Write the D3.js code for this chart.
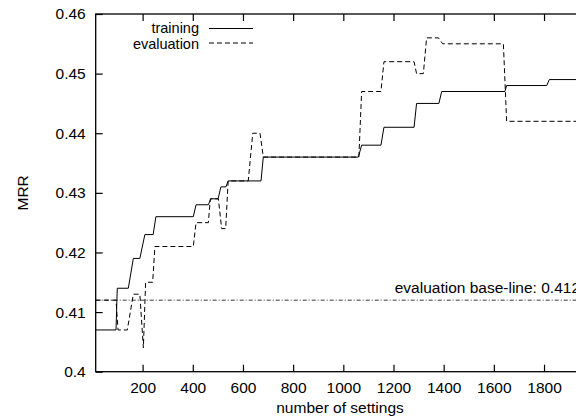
<!DOCTYPE html>
<html>
<head>
<meta charset="utf-8">
<script src="https://cdn.jsdelivr.net/npm/d3@7"></script>
<style>
  body { margin: 0; background: #fff; }
  svg { display: block; font-family: "Liberation Sans", Arial, sans-serif; }
  .axis text { font-size: 15.5px; fill: #000; }
  .axis line { stroke: #000; stroke-width: 1.2; }
</style>
</head>
<body>
<div id="chart"></div>
<script>
// change points of the two step curves (number of settings -> MRR)
const trainX = [13, 94, 99, 143, 163, 189, 209, 242, 253, 402, 413, 462, 472, 501, 512, 532, 541, 672, 681, 1060, 1073, 1150, 1162, 1282, 1292, 1381, 1392, 1644, 1651, 1811, 1821, 2000]
const trainY = [0.407, 0.407, 0.414, 0.414, 0.419, 0.419, 0.423, 0.423, 0.426, 0.426, 0.428, 0.428, 0.429, 0.429, 0.431, 0.431, 0.432, 0.432, 0.436, 0.436, 0.438, 0.438, 0.441, 0.441, 0.445, 0.445, 0.447, 0.447, 0.448, 0.448, 0.449, 0.449]

const evalX = [13, 94, 102, 139, 163, 189, 203, 212, 240, 249, 402, 413, 462, 470, 502, 515, 531, 541, 621, 639, 668, 681, 1062, 1073, 1150, 1162, 1282, 1292, 1319, 1332, 1379, 1396, 1638, 1651, 2000]
const evalY = [0.412, 0.412, 0.407, 0.407, 0.413, 0.413, 0.404, 0.415, 0.415, 0.421, 0.421, 0.425, 0.425, 0.429, 0.429, 0.424, 0.424, 0.432, 0.432, 0.440, 0.440, 0.436, 0.436, 0.447, 0.447, 0.452, 0.452, 0.450, 0.450, 0.456, 0.456, 0.455, 0.455, 0.442, 0.442]

const baseline = 0.412
const xTicks = [200, 400, 600, 800, 1000, 1200, 1400, 1600, 1800]
const yTicks = [0.4, 0.41, 0.42, 0.43, 0.44, 0.45, 0.46]
const seriesNames = ['training', 'evaluation']

const width = 576, height = 419
// plot frame in pixels (right edge falls outside the picture, as in the original)
const frame = { left: 95.7, right: 594.2, top: 14, bottom: 371.7 }

const svg = d3.select('#chart').append('svg')
    .attr('width', width)
    .attr('height', height)

const x = d3.scaleLinear().domain([13, 2000]).range([frame.left, frame.right])
const y = d3.scaleLinear().domain([0.4, 0.46]).range([frame.bottom, frame.top])

svg.append('clipPath').attr('id', 'plot')
    .append('rect')
    .attr('x', frame.left).attr('y', frame.top)
    .attr('width', frame.right - frame.left).attr('height', frame.bottom - frame.top)

// axes, ticks pointing inward
svg.append('g').attr('class', 'axis')
    .attr('transform', `translate(0,${frame.bottom})`)
    .call(d3.axisBottom(x).tickValues(xTicks).tickSizeInner(-7).tickSizeOuter(0).tickPadding(10)
        .tickFormat(d3.format('d')))
    .call(g => g.select('.domain').remove())

svg.append('g').attr('class', 'axis')
    .attr('transform', `translate(0,${frame.top})`)
    .call(d3.axisTop(x).tickValues(xTicks).tickSizeInner(-7).tickSizeOuter(0).tickFormat(''))
    .call(g => g.select('.domain').remove())

svg.append('g').attr('class', 'axis')
    .attr('transform', `translate(${frame.left},0)`)
    .call(d3.axisLeft(y).tickValues(yTicks).tickSizeInner(-7).tickSizeOuter(0).tickPadding(10)
        .tickFormat(d => String(+d.toFixed(2))))
    .call(g => g.select('.domain').remove())

svg.append('g').attr('class', 'axis')
    .attr('transform', `translate(${frame.right},0)`)
    .call(d3.axisRight(y).tickValues(yTicks).tickSizeInner(-7).tickSizeOuter(0).tickFormat(''))
    .call(g => g.select('.domain').remove())

// frame
svg.append('rect')
    .attr('x', frame.left).attr('y', frame.top)
    .attr('width', frame.right - frame.left).attr('height', frame.bottom - frame.top)
    .attr('fill', 'none')
    .attr('stroke', '#000')
    .attr('stroke-width', 1.3)

const line = d3.line().x(d => x(d[0])).y(d => y(d[1]))
const plot = svg.append('g').attr('clip-path', 'url(#plot)')

// base-line
plot.append('path')
    .attr('d', line([[13, baseline], [2000, baseline]]))
    .attr('fill', 'none')
    .attr('stroke', '#222')
    .attr('stroke-width', 0.9)
    .attr('stroke-dasharray', '4,2,1,2')

svg.append('text')
    .attr('x', x(1205))
    .attr('y', y(baseline) - 7)
    .attr('font-size', '15.5px')
    .text('evaluation base-line: ' + baseline)

const trainPts = d3.zip(trainX, trainY)
const evalPts = d3.zip(evalX, evalY)

plot.append('path')
    .attr('d', line(trainPts))
    .attr('fill', 'none')
    .attr('stroke', '#000')
    .attr('stroke-width', 1)

plot.append('path')
    .attr('d', line(evalPts))
    .attr('fill', 'none')
    .attr('stroke', '#000')
    .attr('stroke-width', 1)
    .attr('stroke-dasharray', '5,3')

// legend
const legend = svg.append('g')
seriesNames.forEach((name, i) => {
    const ly = 28.5 + i * 14.5
    legend.append('text')
        .attr('x', 199)
        .attr('y', 33 + i * 16)
        .attr('text-anchor', 'end')
        .attr('font-size', '14.5px')
        .text(name)
    legend.append('line')
        .attr('x1', 209).attr('x2', 253)
        .attr('y1', ly).attr('y2', ly)
        .attr('stroke', '#000')
        .attr('stroke-width', 1)
        .attr('stroke-dasharray', i === 1 ? '5,3' : null)
})

// axis titles
svg.append('text')
    .attr('x', 340)
    .attr('y', 413)
    .attr('text-anchor', 'middle')
    .attr('font-size', '15.5px')
    .text('number of settings')

svg.append('text')
    .attr('transform', `translate(28,${(frame.top + frame.bottom) / 2}) rotate(-90)`)
    .attr('text-anchor', 'middle')
    .attr('font-size', '15.5px')
    .text('MRR')
</script>
</body>
</html>
